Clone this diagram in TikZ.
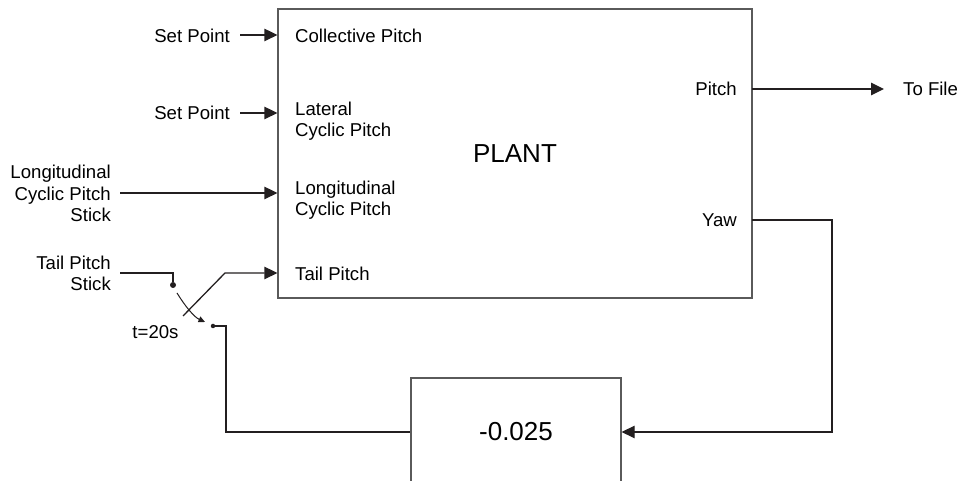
\documentclass[tikz,border=0pt]{standalone}
\usepackage{fontspec}
\setmainfont{Liberation Sans}
\usetikzlibrary{arrows.meta,positioning,calc}
\definecolor{ink}{HTML}{231F20}
\definecolor{frame}{HTML}{5A5A5A}

\begin{document}
\begin{tikzpicture}[
  x=1pt, y=1pt,
  box/.style={draw=frame, line width=1.3pt, inner sep=0pt,
              font=\fontsize{26}{30}\selectfont},
  lbl/.style={inner sep=0pt, font=\fontsize{18.6}{21.5}\selectfont},
  lead/.style={draw=ink, line width=1.3pt},
  arr/.style={lead, -{Triangle[length=13pt, width=12.5pt]}},
  dot/.style={circle, fill=ink, inner sep=0pt, minimum size=#1}
]
\useasboundingbox (0,0) rectangle (958,481);

% blocks
\node[box, minimum width=474pt, minimum height=289pt] (plant) at (515,327.5) {PLANT};
\node[box, minimum width=210pt, minimum height=108pt] (gain) at (516,49) {-0.025};

% outside labels
\node[lbl, anchor=base east] (sp1) at (230,438) {Set Point};
\node[lbl, anchor=base east] (sp2) at (230,361) {Set Point};
\node[lbl, anchor=base east, align=right] (lcs) at (111,259) {Longitudinal\\Cyclic Pitch\\Stick};
\node[lbl, anchor=base east, align=right] (tps) at (111,190) {Tail Pitch\\Stick};
\node[lbl, anchor=base] (tsw) at (155.5,142) {t=20s};
\node[lbl, anchor=base west] (file) at (903,385) {To File};

% plant ports
\node[lbl, anchor=base west] (cp) at (295,438) {Collective Pitch};
\node[lbl, anchor=base west, align=left] (lat) at (295,344) {Lateral\\Cyclic Pitch};
\node[lbl, anchor=base west, align=left] (lon) at (295,265) {Longitudinal\\Cyclic Pitch};
\node[lbl, anchor=base west] (tp) at (295,200) {Tail Pitch};
\node[lbl, anchor=base east] (pout) at (737,385) {Pitch};
\node[lbl, anchor=base east] (yout) at (737,254) {Yaw};

% wire ends
\coordinate (sp1x) at (240,446);
\coordinate (sp2x) at (240,368);
\coordinate (lcsx) at (120,288);
\coordinate (tpsx) at (120,208);
\coordinate (pitchx) at (752,392);
\coordinate (yawx) at (752,261);

% switch
\node[dot=6pt] (sw1) at (173,196) {};
\node[dot=4.5pt] (sw2) at (213,155) {};
\coordinate (arm) at (183,165);
\coordinate (knee) at (225,208);
\coordinate (throwa) at (177,188);
\coordinate (throwb) at (205,159);

\draw[arr] (sp1x) -- (sp1x -| plant.west);
\draw[arr] (sp2x) -- (sp2x -| plant.west);
\draw[arr] (lcsx) -- (lcsx -| plant.west);
\draw[lead] (tpsx) -| (sw1);
\draw[arr] (arm) -- (knee) -- (knee -| plant.west);
\draw[lead, line width=1pt, -{Triangle[length=6.5pt, width=6pt]}]
  (throwa) .. controls (185,175) and (194,164) .. (throwb);
\draw[lead] (sw2) -- ++(13,0) |- (gain.west);
\draw[arr] (pitchx) -- ($(pitchx -| file.west)+(-19,0)$);
\draw[arr] (yawx) -- ++(80,0) |- (gain.east);
\end{tikzpicture}
\end{document}
